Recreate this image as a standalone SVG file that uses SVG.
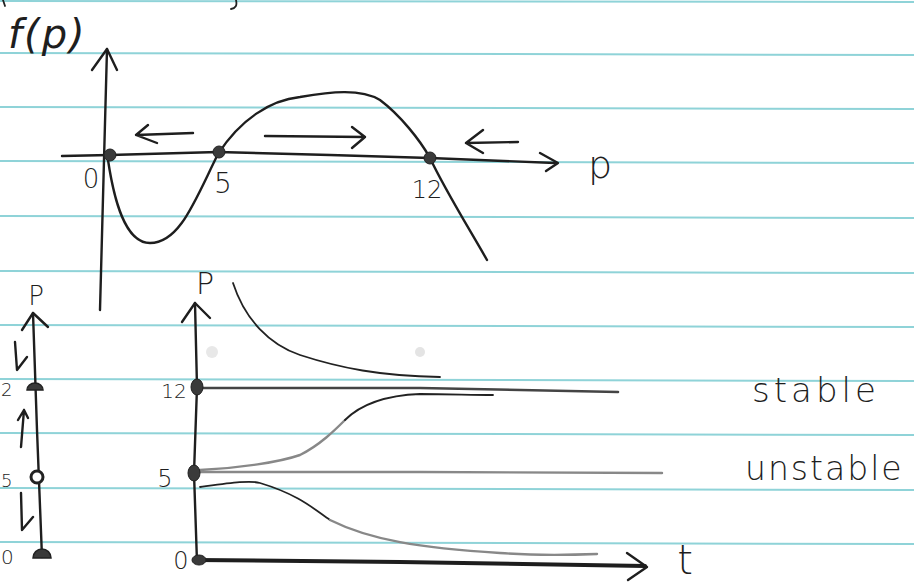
<svg xmlns="http://www.w3.org/2000/svg" width="914" height="583" viewBox="0 0 914 583">
<style>
.rule{stroke:#8fd3d8;stroke-width:2;fill:none}
.ink{stroke:#1e1e1e;stroke-width:2.4;fill:none;stroke-linecap:round;stroke-linejoin:round}
.thin{stroke:#222;stroke-width:1.8;fill:none;stroke-linecap:round;stroke-linejoin:round}
.gray{stroke:#444;stroke-width:2.6;fill:none;stroke-linecap:round}
.lgray{stroke:#888;stroke-width:2.4;fill:none;stroke-linecap:round}
.dot{fill:#3a3a3a;stroke:#222;stroke-width:1}
.hw{font-family:"DejaVu Sans","Liberation Sans",sans-serif;fill:#1e1e1e;font-weight:300}
</style>
<rect width="914" height="583" fill="#ffffff"/>
<g id="paper-rules">
<path class="rule" d="M0 1 L914 2"/>
<path class="rule" d="M0 53 L914 55"/>
<path class="rule" d="M0 107 L914 109"/>
<path class="rule" d="M0 161 L914 163"/>
<path class="rule" d="M0 216 L914 218"/>
<path class="rule" d="M0 271 L914 273"/>
<path class="rule" d="M0 325 L914 327"/>
<path class="rule" d="M0 379 L914 381"/>
<path class="rule" d="M0 433 L914 435"/>
<path class="rule" d="M0 488 L914 490"/>
<path class="rule" d="M0 542 L914 544"/>
</g>
<g id="fragments">
<path class="thin" d="M3 0 L5 6"/>
<path class="thin" d="M236 0 Q238 8 231 9"/>
<circle cx="420" cy="352" r="5" fill="#e4e4e4"/>
<circle cx="212" cy="352" r="6" fill="#e8e8e8"/>
</g>
<g id="top-graph">
<path class="ink" d="M107 49 L104 160 L100 310"/>
<path class="ink" d="M92 70 L107 49 L117 70"/>
<path class="ink" d="M62 156 L110 155 L218 152 L330 155 L430 158 L555 163"/>
<path class="ink" d="M540 153 L558 163 L546 171"/>
<path class="ink" d="M108 160 C114 200 125 243 150 243 C180 243 195 200 218 154 C240 120 270 100 300 97 C330 92 360 88 380 100 C400 115 420 140 430 158 C445 190 470 230 487 260"/>
<circle class="dot" cx="110" cy="155" r="6"/>
<circle class="dot" cx="219" cy="152" r="6"/>
<circle class="dot" cx="430" cy="158" r="6"/>
<path class="ink" d="M193 133 L136 135 M148 125 L136 135 L157 143"/>
<path class="ink" d="M265 136 L365 137 M352 127 L365 137 L352 148"/>
<path class="ink" d="M518 142 L466 143 M483 130 L466 143 L483 153"/>
<text class="hw" x="8" y="48" font-size="40" font-style="italic" letter-spacing="2">f(p)</text>
<text class="hw" x="91" y="188" font-size="26" text-anchor="middle">0</text>
<text class="hw" x="223" y="193" font-size="28" text-anchor="middle">5</text>
<text class="hw" x="427" y="198" font-size="24" text-anchor="middle">12</text>
<text class="hw" x="600" y="178" font-size="38" text-anchor="middle">p</text>
</g>
<g id="phase-line">
<path class="ink" d="M33 313 L37 430 L42 557"/>
<path class="ink" d="M22 330 L33 313 L48 327"/>
<path d="M27 390 A8 7 0 0 1 43 390 Z" fill="#3a3a3a" stroke="#222" stroke-width="1.5"/>
<circle cx="37" cy="477" r="6" fill="#fff" stroke="#222" stroke-width="3"/>
<path d="M33 558 A9 9 0 0 1 51 558 Z" fill="#3a3a3a" stroke="#222" stroke-width="1.5"/>
<path class="ink" d="M15 342 L17 370 L27 357"/>
<path class="ink" d="M21 447 L24 410 M18 420 L24 410 L28 418"/>
<path class="ink" d="M21 493 L22 530 L33 517"/>
<text class="hw" x="36" y="305" font-size="26" text-anchor="middle">P</text>
<text class="hw" x="1" y="396" font-size="18">2</text>
<text class="hw" x="1" y="487" font-size="18">5</text>
<text class="hw" x="1" y="564" font-size="20">0</text>
</g>
<g id="time-graph">
<path class="ink" d="M195 303 L197 387 L194 473 L197 562"/>
<path class="ink" d="M182 322 L195 303 L210 318"/>
<path d="M196 560 L400 562 L645 566" stroke="#1e1e1e" stroke-width="4" fill="none" stroke-linecap="round"/>
<path class="ink" d="M627 553 L647 567 L628 580"/>
<path class="gray" d="M200 388 L420 388 L618 392"/>
<path class="lgray" d="M198 472 L420 472 L662 473"/>
<path class="thin" d="M233 283 C245 320 270 345 300 355 C340 368 380 376 440 377"/>
<path class="lgray" d="M200 470 C240 468 280 462 300 455 C320 445 335 430 345 420"/>
<path class="thin" d="M345 420 C365 400 395 395 420 394 C450 394 470 395 493 395"/>
<path class="thin" d="M200 487 C230 483 250 480 260 483 C300 495 315 510 330 520"/>
<path class="lgray" d="M330 520 C370 540 420 548 500 553 C540 556 570 555 597 554"/>
<ellipse cx="197" cy="387" rx="6" ry="8" class="dot"/>
<ellipse cx="194" cy="473" rx="6" ry="8" class="dot"/>
<ellipse cx="199" cy="560" rx="7" ry="5" class="dot"/>
<text class="hw" x="205" y="294" font-size="30" text-anchor="middle">P</text>
<text class="hw" x="174" y="398" font-size="20" text-anchor="middle">12</text>
<text class="hw" x="165" y="487" font-size="24" text-anchor="middle">5</text>
<text class="hw" x="181" y="569" font-size="24" text-anchor="middle">0</text>
<text class="hw" x="685" y="574" font-size="40" text-anchor="middle">t</text>
</g>
<g id="labels">
<text class="hw" x="752" y="402" font-size="34" letter-spacing="4">stable</text>
<text class="hw" x="745" y="480" font-size="33" letter-spacing="2">unstable</text>
</g>
</svg>
